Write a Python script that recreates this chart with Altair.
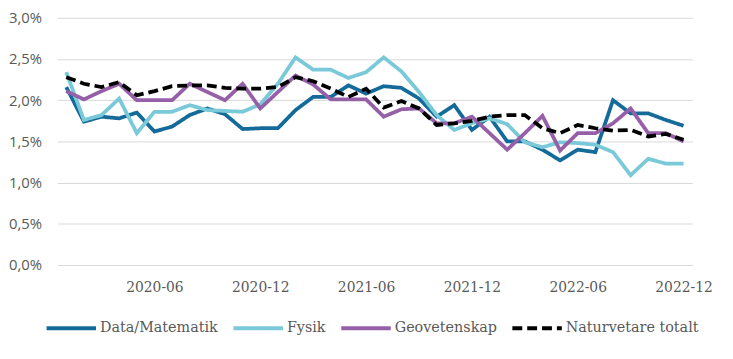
import altair as alt
import pandas as pd

months = [f"{y}-{m:02d}" for y in (2020, 2021, 2022) for m in range(1, 13)]

series_names = ["Data/Matematik", "Fysik", "Geovetenskap", "Naturvetare totalt"]

data_matematik = [2.16, 1.74, 1.80, 1.78, 1.85, 1.62, 1.68, 1.82, 1.90, 1.83,
                  1.65, 1.66, 1.66, 1.88, 2.04, 2.04, 2.18, 2.08, 2.17, 2.15,
                  2.02, 1.80, 1.94, 1.64, 1.80, 1.50, 1.50, 1.40, 1.27, 1.40,
                  1.37, 2.00, 1.84, 1.84, 1.76, 1.69]
fysik = [2.34, 1.76, 1.82, 2.02, 1.60, 1.86, 1.86, 1.94, 1.88, 1.87,
         1.86, 1.95, 2.20, 2.52, 2.37, 2.37, 2.27, 2.34, 2.52, 2.35,
         2.10, 1.82, 1.64, 1.72, 1.78, 1.71, 1.49, 1.43, 1.49, 1.48,
         1.46, 1.37, 1.09, 1.29, 1.23, 1.23]
geovetenskap = [2.11, 2.01, 2.11, 2.20, 2.00, 2.00, 2.00, 2.20, 2.10, 2.00,
                2.20, 1.90, 2.10, 2.30, 2.19, 2.01, 2.01, 2.01, 1.80, 1.89,
                1.90, 1.72, 1.72, 1.80, 1.60, 1.40, 1.60, 1.81, 1.39, 1.60,
                1.60, 1.72, 1.90, 1.60, 1.60, 1.50]
naturvetare = [2.28, 2.20, 2.16, 2.22, 2.06, 2.11, 2.17, 2.18, 2.18, 2.15,
               2.14, 2.14, 2.16, 2.28, 2.23, 2.14, 2.04, 2.14, 1.91, 1.99,
               1.90, 1.70, 1.72, 1.75, 1.80, 1.82, 1.82, 1.66, 1.60, 1.70,
               1.66, 1.63, 1.64, 1.56, 1.59, 1.52]

x_tick_labels = ["2020-06", "2020-12", "2021-06", "2021-12", "2022-06", "2022-12"]
y_ticks = [0, 0.5, 1.0, 1.5, 2.0, 2.5, 3.0]

colors = ["#146b9a", "#79c9d9", "#9660a8", "#000000"]
dashes = [[1, 0], [1, 0], [1, 0], [10, 5]]

rows = []
for order, (name, vals) in enumerate(zip(series_names,
                                         [data_matematik, fysik, geovetenskap, naturvetare])):
    for m, v in zip(months, vals):
        rows.append({"month": m, "value": v, "series": name, "order": order})
df = pd.DataFrame(rows)

legend = alt.Legend(
    title=None,
    orient="none",
    direction="horizontal",
    legendX=-13,
    legendY=287,
    symbolType="stroke",
    symbolSize=2500,
    symbolStrokeWidth=4,
    labelFont="DejaVu Serif",
    labelFontSize=14.5,
    labelColor="#595959",
    labelOffset=2,
    columnPadding=7,
    padding=0,
)

chart = alt.Chart(df).mark_line(strokeWidth=3.8).encode(
    x=alt.X("month:O",
            scale=alt.Scale(type="point", padding=0.5),
            axis=alt.Axis(values=x_tick_labels, labelAngle=0, title=None,
                          ticks=False, domain=False, grid=False,
                          labelFont="DejaVu Serif", labelFontSize=14,
                          labelColor="#595959", labelPadding=16)),
    y=alt.Y("value:Q",
            scale=alt.Scale(domain=[0, 3]),
            axis=alt.Axis(values=y_ticks, title=None, ticks=False, domain=False,
                          labelExpr="replace(format(datum.value, '.1f'), '.', ',') + '%'",
                          labelFont="Open Sans", labelFontSize=15,
                          labelColor="#595959", labelPadding=16,
                          gridColor="#d9d9d9", gridWidth=1)),
    color=alt.Color("series:N", scale=alt.Scale(domain=series_names, range=colors),
                    legend=legend),
    strokeDash=alt.StrokeDash("series:N", scale=alt.Scale(domain=series_names, range=dashes),
                              legend=legend),
    order=alt.Order("order:Q"),
).properties(
    width=642,
    height=250,
    autosize=alt.AutoSizeParams(type="none"),
    padding={"left": 50, "top": 8, "right": 33, "bottom": 85},
).configure_view(stroke=None)

chart.save("out.html", embed_options={"renderer": "svg", "actions": False})
